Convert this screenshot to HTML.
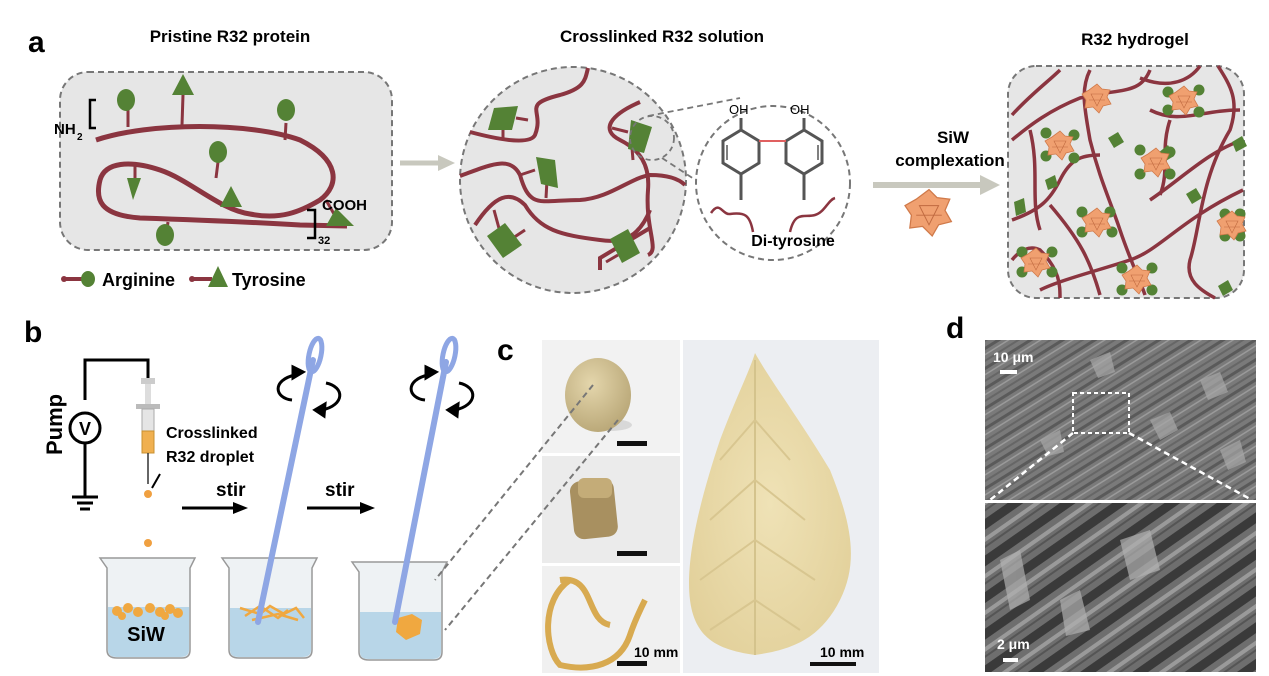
<!DOCTYPE html>
<html><head><meta charset="utf-8"><style>
html,body{margin:0;padding:0;background:#fff}
svg{display:block;font-family:"Liberation Sans",Arial,sans-serif}
</style></head><body>
<svg width="1269" height="676" viewBox="0 0 1269 676" xmlns="http://www.w3.org/2000/svg">
<defs>
<pattern id="fib" width="17" height="17" patternUnits="userSpaceOnUse" patternTransform="rotate(-32)"><rect width="17" height="17" fill="#7a7a7a"/><rect width="17" height="3" fill="#5a5a5a"/><rect y="6" width="17" height="1.5" fill="#9a9a9a"/><rect y="11" width="17" height="2" fill="#666"/></pattern>
<pattern id="fib2" width="30" height="30" patternUnits="userSpaceOnUse" patternTransform="rotate(-35)"><rect width="30" height="30" fill="#6e6e6e"/><rect width="30" height="9" fill="#3a3a3a"/><rect y="15" width="30" height="4" fill="#9a9a9a"/><rect y="22" width="30" height="2" fill="#555"/></pattern>
<radialGradient id="leafg" cx="0.5" cy="0.5" r="0.6"><stop offset="0" stop-color="#efe2b6"/><stop offset="1" stop-color="#e2d09a"/></radialGradient>
<radialGradient id="ballg" cx="0.4" cy="0.35" r="0.7"><stop offset="0" stop-color="#e4d6ac"/><stop offset="1" stop-color="#b8a676"/></radialGradient>
<g id="poly"><polygon points="0,-14 5,-9 13,-8 10,-1 14,6 6,8 2,15 -4,9 -12,10 -11,2 -15,-4 -8,-8" fill="#f0a070" stroke="#d07a4a" stroke-width="0.8"/><path d="M-6,-4 L6,-4 L0,8 Z M-8,2 L8,2" stroke="#c06a40" stroke-width="0.6" fill="none"/></g>
</defs>

<!-- Panel a -->
<text x="28" y="52" font-size="30" font-weight="bold">a</text>
<text x="230" y="42" font-size="17" font-weight="bold" text-anchor="middle">Pristine R32 protein</text>
<text x="662" y="42" font-size="17" font-weight="bold" text-anchor="middle">Crosslinked R32 solution</text>
<text x="1135" y="45" font-size="17" font-weight="bold" text-anchor="middle">R32 hydrogel</text>

<rect x="60" y="72" width="332" height="178" rx="28" fill="#e6e6e6" stroke="#777" stroke-width="2" stroke-dasharray="6,4"/>
<g stroke="#8b3540" stroke-width="5" fill="none">
<path d="M96,140 C150,122 250,122 300,140 C340,160 340,185 320,200 C300,212 280,220 250,214 C220,210 190,180 160,170 C130,160 105,162 100,180 C95,200 100,215 140,218 C200,220 250,222 300,225 L347,226"/>
</g>
<g stroke="#8b3540" stroke-width="3"><line x1="128" y1="110" x2="128" y2="127"/><line x1="183" y1="95" x2="182" y2="125"/><line x1="286" y1="123" x2="285" y2="140"/><line x1="218" y1="162" x2="216" y2="178"/><line x1="135" y1="165" x2="135" y2="182"/><line x1="326" y1="200" x2="334" y2="214"/><line x1="232" y1="200" x2="232" y2="210"/><line x1="168" y1="222" x2="166" y2="236"/></g>
<g fill="#548235"><ellipse cx="126" cy="100" rx="9" ry="11"/><ellipse cx="286" cy="110" rx="9" ry="11"/><ellipse cx="218" cy="152" rx="9" ry="11"/><ellipse cx="165" cy="235" rx="9" ry="11"/>
<polygon points="183,74 172,95 194,95"/><polygon points="127,178 141,178 133,200"/><polygon points="336,208 354,226 326,226"/><polygon points="231,186 220,207 242,207"/></g>
<path d="M96,100 L90,100 L90,128 L96,128" stroke="#000" stroke-width="2.5" fill="none"/>
<text x="54" y="134" font-size="15" font-weight="bold">NH</text><text x="77" y="140" font-size="10" font-weight="bold">2</text>
<path d="M307,210 L315,210 L315,238 L307,238" stroke="#000" stroke-width="2.5" fill="none"/>
<text x="322" y="210" font-size="15" font-weight="bold">COOH</text>
<text x="318" y="244" font-size="11" font-weight="bold">32</text>
<line x1="64" y1="279" x2="82" y2="279" stroke="#8b3540" stroke-width="4"/><circle cx="64" cy="279" r="3" fill="#8b3540"/><ellipse cx="88" cy="279" rx="7" ry="8" fill="#548235"/>
<text x="102" y="286" font-size="18" font-weight="bold">Arginine</text>
<line x1="192" y1="279" x2="212" y2="279" stroke="#8b3540" stroke-width="4"/><circle cx="192" cy="279" r="3" fill="#8b3540"/><polygon points="208,287 218,266 228,287" fill="#548235"/>
<text x="232" y="286" font-size="18" font-weight="bold">Tyrosine</text>

<line x1="400" y1="163" x2="440" y2="163" stroke="#c8c8be" stroke-width="5"/><polygon points="438,155 455,163 438,171" fill="#c8c8be"/>

<circle cx="573" cy="180" r="113" fill="#e6e6e6" stroke="#777" stroke-width="2" stroke-dasharray="6,4"/>
<g stroke="#8b3540" stroke-width="4" fill="none">
<path d="M470,132 C500,140 530,145 535,135 C545,110 520,105 560,95 C585,88 585,80 588,68"/>
<path d="M460,176 C490,165 510,155 520,175 C530,210 540,200 580,200 C610,198 630,178 650,175 C670,175 680,180 685,185"/>
<path d="M475,225 C495,195 510,190 525,205 C540,230 560,235 600,240 C625,244 640,235 650,210"/>
<path d="M640,102 C610,115 600,130 620,140 C640,150 650,165 648,190 C645,230 660,250 648,255"/>
<path d="M600,270 L600,258 L650,228"/>
</g>
<g stroke="#8b3540" stroke-width="3"><line x1="503" y1="122" x2="503" y2="138"/><line x1="516" y1="118" x2="528" y2="120"/><line x1="547" y1="180" x2="546" y2="198"/><line x1="520" y1="175" x2="535" y2="170"/><line x1="494" y1="210" x2="500" y2="232"/><line x1="510" y1="240" x2="525" y2="230"/><line x1="632" y1="148" x2="633" y2="160"/><line x1="612" y1="128" x2="628" y2="132"/><line x1="606" y1="262" x2="618" y2="255"/></g>
<g fill="#548235"><polygon points="494,108 518,106 512,130 488,130"/><polygon points="536,157 555,160 558,188 541,184"/><polygon points="487,236 505,223 522,245 503,258"/><polygon points="610,239 628,229 640,253 622,263"/><polygon points="631,120 652,127 644,153 628,149"/></g>
<circle cx="652" cy="138" r="22" fill="none" stroke="#777" stroke-width="1.8" stroke-dasharray="5,4"/>
<line x1="648" y1="116" x2="740" y2="98" stroke="#777" stroke-width="1.8" stroke-dasharray="6,4"/>
<line x1="662" y1="158" x2="726" y2="200" stroke="#777" stroke-width="1.8" stroke-dasharray="6,4"/>
<circle cx="773" cy="183" r="77" fill="#fff" stroke="#777" stroke-width="2" stroke-dasharray="6,4"/>
<g stroke="#555" stroke-width="3" fill="none">
<polygon points="741,130 759,141 759,163 741,174 723,163 723,141"/>
<polygon points="804,130 822,141 822,163 804,174 786,163 786,141"/>
<line x1="741" y1="130" x2="741" y2="118"/><line x1="804" y1="130" x2="804" y2="118"/>
<line x1="741" y1="174" x2="741" y2="200"/><line x1="804" y1="174" x2="804" y2="200"/>
<line x1="727" y1="145" x2="727" y2="160" stroke-width="1.5"/><line x1="818" y1="145" x2="818" y2="160" stroke-width="1.5"/>
</g>
<line x1="759" y1="141" x2="786" y2="141" stroke="#e06060" stroke-width="2"/>
<text x="729" y="114" font-size="13">OH</text><text x="790" y="114" font-size="13">OH</text>
<path d="M711,213 C720,200 722,215 730,214 C745,212 750,215 753,232" stroke="#8b3540" stroke-width="2.5" fill="none"/>
<path d="M790,232 C795,210 805,218 815,215 C825,212 828,200 835,198" stroke="#8b3540" stroke-width="2.5" fill="none"/>
<text x="793" y="246" font-size="16" font-weight="bold" text-anchor="middle">Di-tyrosine</text>

<text x="953" y="143" font-size="17" font-weight="bold" text-anchor="middle">SiW</text>
<text x="950" y="166" font-size="17" font-weight="bold" text-anchor="middle">complexation</text>
<line x1="873" y1="185" x2="982" y2="185" stroke="#c8c8be" stroke-width="6"/><polygon points="980,175 1000,185 980,195" fill="#c8c8be"/>
<use href="#poly" transform="translate(929,212) scale(1.6)"/>

<rect x="1008" y="66" width="236" height="232" rx="28" fill="#e6e6e6" stroke="#777" stroke-width="2" stroke-dasharray="6,4"/>
<g stroke="#8b3540" stroke-width="3.5" fill="none">
<path d="M1012,115 C1030,95 1050,80 1060,70"/>
<path d="M1012,140 C1030,125 1050,110 1080,98 C1120,88 1140,95 1150,70"/>
<path d="M1090,70 C1080,90 1085,110 1090,140 C1100,180 1110,200 1120,230 C1130,260 1140,280 1145,295"/>
<path d="M1140,78 C1170,90 1190,80 1200,66 M1150,110 C1180,125 1200,110 1240,110"/>
<path d="M1218,66 C1230,85 1240,100 1230,130 C1200,180 1200,230 1190,260 C1185,280 1200,290 1215,298"/>
<path d="M1012,220 C1040,210 1050,200 1060,180 C1070,160 1080,155 1100,155"/>
<path d="M1040,290 C1060,280 1100,270 1130,260 C1160,250 1180,220 1243,190"/>
<path d="M1050,205 C1080,240 1090,260 1100,295"/>
<path d="M1012,260 C1020,250 1030,245 1040,250 C1060,270 1060,285 1060,298"/>
<path d="M1150,200 C1180,180 1210,150 1243,140"/>
<path d="M1030,130 C1040,170 1030,200 1040,230"/>
<path d="M1170,120 C1160,150 1170,170 1160,195"/>
</g>
<g fill="#548235">
<circle cx="1046" cy="133" r="5.5"/><circle cx="1074" cy="135" r="5.5"/><circle cx="1046" cy="156" r="5.5"/><circle cx="1074" cy="158" r="5.5"/>
<circle cx="1168" cy="92" r="5.5"/><circle cx="1199" cy="90" r="5.5"/><circle cx="1168" cy="110" r="5.5"/><circle cx="1199" cy="112" r="5.5"/>
<circle cx="1140" cy="150" r="5.5"/><circle cx="1170" cy="152" r="5.5"/><circle cx="1140" cy="174" r="5.5"/><circle cx="1170" cy="174" r="5.5"/>
<circle cx="1082" cy="212" r="5.5"/><circle cx="1110" cy="212" r="5.5"/><circle cx="1082" cy="232" r="5.5"/><circle cx="1112" cy="232" r="5.5"/>
<circle cx="1022" cy="252" r="5.5"/><circle cx="1052" cy="252" r="5.5"/><circle cx="1022" cy="272" r="5.5"/><circle cx="1052" cy="272" r="5.5"/>
<circle cx="1122" cy="268" r="5.5"/><circle cx="1152" cy="268" r="5.5"/><circle cx="1122" cy="290" r="5.5"/><circle cx="1152" cy="290" r="5.5"/>
<circle cx="1225" cy="214" r="5.5"/><circle cx="1240" cy="214" r="5.5"/><circle cx="1225" cy="236" r="5.5"/><circle cx="1240" cy="236" r="5.5"/>
<polygon points="1108,138 1118,132 1124,142 1114,148"/><polygon points="1158,153 1168,145 1174,156 1164,162"/><polygon points="1232,142 1242,136 1247,146 1236,152"/><polygon points="1186,194 1196,188 1202,198 1192,204"/><polygon points="1014,202 1024,198 1026,212 1016,216"/><polygon points="1218,286 1228,280 1233,290 1223,296"/><polygon points="1045,180 1055,175 1058,186 1048,190"/>
</g>
<use href="#poly" transform="translate(1060,145)"/><use href="#poly" transform="translate(1184,100)"/><use href="#poly" transform="translate(1156,162)"/><use href="#poly" transform="translate(1097,222)"/><use href="#poly" transform="translate(1036,262)"/><use href="#poly" transform="translate(1137,279)"/><use href="#poly" transform="translate(1232,225)"/><use href="#poly" transform="translate(1097,98)"/>

<!-- Panel b -->
<text x="24" y="342" font-size="30" font-weight="bold">b</text>
<path d="M85,400 L85,360 L148,360 L148,380" stroke="#000" stroke-width="3" fill="none"/>
<line x1="85" y1="444" x2="85" y2="497" stroke="#000" stroke-width="3"/>
<circle cx="85" cy="428" r="15" fill="#fff" stroke="#000" stroke-width="3"/>
<text x="85" y="435" font-size="18" text-anchor="middle" font-weight="bold">V</text>
<line x1="72" y1="497" x2="98" y2="497" stroke="#000" stroke-width="3"/><line x1="77" y1="503" x2="93" y2="503" stroke="#000" stroke-width="3"/><line x1="80" y1="509" x2="90" y2="509" stroke="#000" stroke-width="3"/>
<text transform="translate(62,455) rotate(-90)" font-size="22" font-weight="bold">Pump</text>
<rect x="141" y="378" width="14" height="6" fill="#ccc"/><rect x="145" y="384" width="6" height="20" fill="#ddd"/><rect x="136" y="404" width="24" height="5" fill="#bbb"/>
<rect x="142" y="409" width="12" height="22" fill="#e5e5e5" stroke="#aaa"/><rect x="142" y="431" width="12" height="22" fill="#f0b050" stroke="#c89030"/>
<line x1="148" y1="453" x2="148" y2="484" stroke="#333" stroke-width="1.5"/>
<circle cx="148" cy="494" r="4" fill="#f0a040"/>
<line x1="160" y1="474" x2="152" y2="488" stroke="#000" stroke-width="2"/>
<text x="166" y="438" font-size="16" font-weight="bold">Crosslinked</text>
<text x="166" y="462" font-size="16" font-weight="bold">R32 droplet</text>
<text x="216" y="496" font-size="19" font-weight="bold">stir</text>
<line x1="182" y1="508" x2="235" y2="508" stroke="#000" stroke-width="3"/><polygon points="233,502 248,508 233,514" fill="#000"/>
<text x="325" y="496" font-size="19" font-weight="bold">stir</text>
<line x1="307" y1="508" x2="362" y2="508" stroke="#000" stroke-width="3"/><polygon points="360,502 375,508 360,514" fill="#000"/>
<circle cx="148" cy="543" r="4" fill="#f0a040"/><circle cx="148" cy="578" r="4" fill="#f0a040"/>
<g>
<path d="M100,558 L107,568 L107,650 Q107,658 117,658 L182,658 Q190,658 190,650 L190,568 L195,558 Z" fill="#eef2f4" stroke="#999" stroke-width="1.5"/>
<path d="M108,607 L189,607 L189,650 Q189,657 180,657 L117,657 Q108,657 108,650 Z" fill="#b8d6e8"/>
<g fill="#f0a840"><circle cx="117" cy="611" r="5"/><circle cx="128" cy="608" r="5"/><circle cx="138" cy="612" r="5"/><circle cx="150" cy="608" r="5"/><circle cx="160" cy="612" r="5"/><circle cx="170" cy="609" r="5"/><circle cx="178" cy="613" r="5"/><circle cx="122" cy="616" r="4"/><circle cx="165" cy="616" r="4"/></g>
<text x="146" y="641" font-size="20" font-weight="bold" text-anchor="middle">SiW</text>
<path d="M222,558 L229,568 L229,650 Q229,658 239,658 L304,658 Q312,658 312,650 L312,568 L317,558 Z" fill="#eef2f4" stroke="#999" stroke-width="1.5"/>
<path d="M230,608 L311,608 L311,650 Q311,657 302,657 L239,657 Q230,657 230,650 Z" fill="#b8d6e8"/>
<path d="M240,608 l20,6 l10,-8 l14,8 l12,-6 l8,10 M245,616 l15,-10 l18,12 l10,-8 M252,620 l26,-6 l20,6" stroke="#f0a840" stroke-width="2.5" fill="none"/>
<path d="M352,562 L359,572 L359,652 Q359,660 369,660 L434,660 Q442,660 442,652 L442,572 L447,562 Z" fill="#eef2f4" stroke="#999" stroke-width="1.5"/>
<path d="M360,612 L441,612 L441,652 Q441,659 432,659 L369,659 Q360,659 360,652 Z" fill="#b8d6e8"/>
<path d="M398,618 L412,614 L422,620 L420,634 L406,640 L396,632 Z" fill="#f0a840"/>
</g>
<line x1="313" y1="360" x2="258" y2="622" stroke="#8ea6e4" stroke-width="6" stroke-linecap="round"/>
<ellipse cx="315" cy="355" rx="6" ry="17" fill="none" stroke="#8ea6e4" stroke-width="5" transform="rotate(12 315 355)"/>
<line x1="446" y1="362" x2="395" y2="622" stroke="#8ea6e4" stroke-width="6" stroke-linecap="round"/>
<ellipse cx="449" cy="355" rx="6" ry="17" fill="none" stroke="#8ea6e4" stroke-width="5" transform="rotate(12 449 355)"/>
<g stroke="#000" stroke-width="3" fill="none">
<path d="M295,375 C272,380 274,398 292,400"/><polygon points="293,367 303,372 293,378" fill="#000"/>
<path d="M326,383 C345,387 345,405 322,410"/><polygon points="325,404 315,410 324,416" fill="#000"/>
<path d="M428,375 C405,380 407,398 425,400"/><polygon points="426,367 436,372 426,378" fill="#000"/>
<path d="M459,383 C478,387 478,405 455,410"/><polygon points="458,404 448,410 457,416" fill="#000"/>
</g>

<!-- Panel c -->
<text x="497" y="360" font-size="30" font-weight="bold">c</text>
<rect x="542" y="340" width="138" height="113" fill="#f2f2f2"/>
<rect x="542" y="456" width="138" height="107" fill="#ebebeb"/>
<rect x="542" y="566" width="138" height="107" fill="#f0f0f0"/>
<rect x="683" y="340" width="196" height="333" fill="#eceef2"/>
<ellipse cx="610" cy="425" rx="22" ry="6" fill="#d8d8d8"/>
<ellipse cx="598" cy="395" rx="33" ry="37" fill="url(#ballg)"/>
<rect x="572" y="480" width="44" height="58" rx="10" fill="#a89060" transform="rotate(-6 594 510)"/><rect x="578" y="478" width="34" height="20" rx="6" fill="#c4ac78"/>
<path d="M570,580 C540,600 545,650 560,665 C590,672 620,665 630,635 C635,620 640,610 645,600 M560,580 C595,575 585,620 610,625" stroke="#d8aa50" stroke-width="6" fill="none"/>
<rect x="617" y="441" width="30" height="5" fill="#111"/><rect x="617" y="551" width="30" height="5" fill="#111"/><rect x="617" y="661" width="30" height="5" fill="#111"/>
<text x="634" y="657" font-size="14" font-weight="bold">10 mm</text>
<path d="M755,353 C770,380 800,420 830,470 C850,520 860,560 840,600 C820,640 790,650 755,655 C720,650 695,640 690,600 C685,560 700,500 720,440 C735,400 750,370 755,353 Z" fill="url(#leafg)"/>
<line x1="755" y1="360" x2="755" y2="655" stroke="#d4c38c" stroke-width="2"/>
<g stroke="#d8c690" stroke-width="2" fill="none"><path d="M755,420 L720,460 M755,420 L790,460 M755,480 L710,520 M755,480 L805,520 M755,540 L700,580 M755,540 L815,580 M755,600 L710,630 M755,600 L800,630"/></g>
<text x="820" y="657" font-size="14" font-weight="bold">10 mm</text>
<rect x="810" y="662" width="46" height="4" fill="#111"/>
<line x1="593" y1="385" x2="435" y2="580" stroke="#777" stroke-width="2" stroke-dasharray="6,4"/>
<line x1="618" y1="420" x2="445" y2="630" stroke="#777" stroke-width="2" stroke-dasharray="6,4"/>

<!-- Panel d -->
<text x="946" y="338" font-size="30" font-weight="bold">d</text>
<rect x="985" y="340" width="271" height="160" fill="url(#fib)"/>
<g fill="#a8a8a8" opacity="0.7"><polygon points="1090,360 1110,352 1115,372 1098,378"/><polygon points="1150,420 1170,412 1178,430 1160,440"/><polygon points="1200,380 1220,372 1228,392 1208,400"/><polygon points="1040,440 1060,430 1064,452 1048,456"/><polygon points="1220,450 1240,440 1246,462 1228,470"/></g>
<rect x="985" y="503" width="271" height="169" fill="url(#fib2)"/>
<g fill="#b0b0b0" opacity="0.7"><polygon points="1000,560 1020,550 1030,600 1010,610"/><polygon points="1120,540 1150,530 1160,570 1130,580"/><polygon points="1060,600 1080,590 1090,630 1066,636"/></g>
<text x="993" y="362" font-size="14" fill="#fff" font-weight="bold">10 μm</text>
<rect x="1000" y="370" width="17" height="4" fill="#fff"/>
<text x="997" y="649" font-size="14" fill="#fff" font-weight="bold">2 μm</text>
<rect x="1003" y="658" width="15" height="4" fill="#fff"/>
<rect x="1073" y="393" width="56" height="40" fill="none" stroke="#fff" stroke-width="2" stroke-dasharray="4,3"/>
<line x1="1073" y1="433" x2="990" y2="500" stroke="#fff" stroke-width="2.5" stroke-dasharray="6,4"/>
<line x1="1129" y1="433" x2="1252" y2="500" stroke="#fff" stroke-width="2.5" stroke-dasharray="6,4"/>
</svg>
</body></html>
